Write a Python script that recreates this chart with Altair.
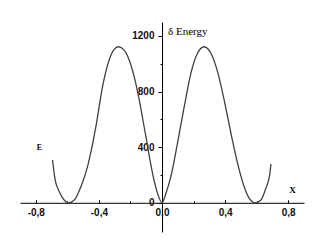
import altair as alt
import pandas as pd

# ---- data ----
X_VALUES = [-0.694, -0.677, -0.651, -0.620, -0.593, -0.556, -0.514, -0.472, -0.419,
            -0.377, -0.335, -0.303, -0.276, -0.240, -0.208, -0.176, -0.144, -0.102,
            -0.060, -0.028, 0.0, 0.025, 0.056, 0.098, 0.141, 0.183, 0.225, 0.267,
            0.310, 0.352, 0.394, 0.437, 0.479, 0.521, 0.553, 0.591, 0.627, 0.658,
            0.684, 0.690]
ENERGY_VALUES = [308, 164, 80, 20, 0, 20, 116, 260, 547,
                 835, 1027, 1103, 1122, 1098, 1027, 906, 739, 475,
                 212, 68, 0, 68, 188, 428, 691, 931, 1075, 1122,
                 1075, 943, 739, 500, 284, 116, 32, 0, 20, 104,
                 212, 279]

X_MAJOR = [-0.8, -0.4, 0.0, 0.4, 0.8]
X_MINOR = [-0.6, -0.2, 0.2, 0.6]
Y_MAJOR = [0, 400, 800, 1200]
Y_MINOR = [200, 600, 1000]
X_DOMAIN = [-0.9, 0.9]
Y_DOMAIN = [-210, 1300]

df = pd.DataFrame({"x": X_VALUES, "e": ENERGY_VALUES})

W, H = 284, 210
x_zero_px = W * (0 - X_DOMAIN[0]) / (X_DOMAIN[1] - X_DOMAIN[0])
y_zero_from_top = H * (Y_DOMAIN[1] - 0) / (Y_DOMAIN[1] - Y_DOMAIN[0])

xs = alt.Scale(domain=X_DOMAIN, nice=False, zero=False)
ys = alt.Scale(domain=Y_DOMAIN, nice=False, zero=False)

FONT = "Liberation Sans"
x_label_expr = "(datum.value < 0 ? '-' : '') + replace(format(abs(datum.value), '.1f'), '.', ',')"

base = alt.Chart(df)

main = base.mark_line(color="#404040", strokeWidth=1.3, interpolate="monotone").encode(
    x=alt.X("x:Q", scale=xs, axis=alt.Axis(
        orient="bottom", offset=-(H - y_zero_from_top), values=X_MAJOR, ticks=False,
        grid=False, title=None, domainColor="black", domainWidth=1,
        labelFont=FONT, labelFontSize=10, labelFontWeight="bold", labelColor="#111111",
        labelPadding=5, labelExpr=x_label_expr, labelFlush=False, labelOverlap=False)),
    y=alt.Y("e:Q", scale=ys, axis=alt.Axis(
        orient="left", offset=-x_zero_px, values=Y_MAJOR, tickSize=4, tickColor="black",
        grid=False, title=None, domainColor="black", domainWidth=1,
        labelFont=FONT, labelFontSize=10, labelFontWeight="bold", labelColor="#111111",
        labelPadding=4, format="d", labelFlush=False, labelOverlap=False)),
)

major_ticks = base.mark_line(opacity=0).encode(
    x=alt.X("x:Q", scale=xs, axis=alt.Axis(
        orient="top", offset=-y_zero_from_top, values=X_MAJOR, tickSize=3,
        tickColor="black", labels=False, domain=False, grid=False, title=None)),
    y=alt.Y("e:Q", scale=ys, axis=alt.Axis(
        orient="left", offset=-x_zero_px, values=Y_MINOR, tickSize=2,
        tickColor="black", labels=False, domain=False, grid=False, title=None)),
)

minor_ticks = base.mark_line(opacity=0).encode(
    x=alt.X("x:Q", scale=xs, axis=alt.Axis(
        orient="top", offset=-y_zero_from_top, values=X_MINOR, tickSize=2,
        tickColor="black", labels=False, domain=False, grid=False, title=None)),
    y=alt.Y("e:Q", scale=ys, axis=None),
)

ANNOT_TEXT = ["\u03b4 Energy", "X", "E"]

t_energy = alt.Chart().mark_text(text=ANNOT_TEXT[0], font="Liberation Serif", fontSize=11,
                                 align="left", baseline="middle", color="black").encode(
    x=alt.value(148), y=alt.value(10))
t_x = alt.Chart().mark_text(text=ANNOT_TEXT[1], font="Liberation Serif", fontSize=9,
                            fontWeight="bold", align="center", baseline="middle",
                            color="black").encode(x=alt.value(272.5), y=alt.value(168))
t_e = alt.Chart().mark_text(text=ANNOT_TEXT[2], font="Liberation Serif", fontSize=8,
                            fontWeight="bold", align="center", baseline="middle",
                            color="black").encode(x=alt.value(19.5), y=alt.value(125.5))

chart = alt.layer(main, major_ticks, minor_ticks, t_energy, t_x, t_e).resolve_axis(
    x="independent", y="independent"
).properties(
    width=W, height=H,
    autosize=alt.AutoSizeParams(type="none"),
    padding={"left": 12, "top": 14, "right": 15, "bottom": 12},
    background="white",
).configure_view(strokeWidth=0, stroke="transparent")

chart.save("out.html", embed_options={"renderer": "svg", "actions": False})
